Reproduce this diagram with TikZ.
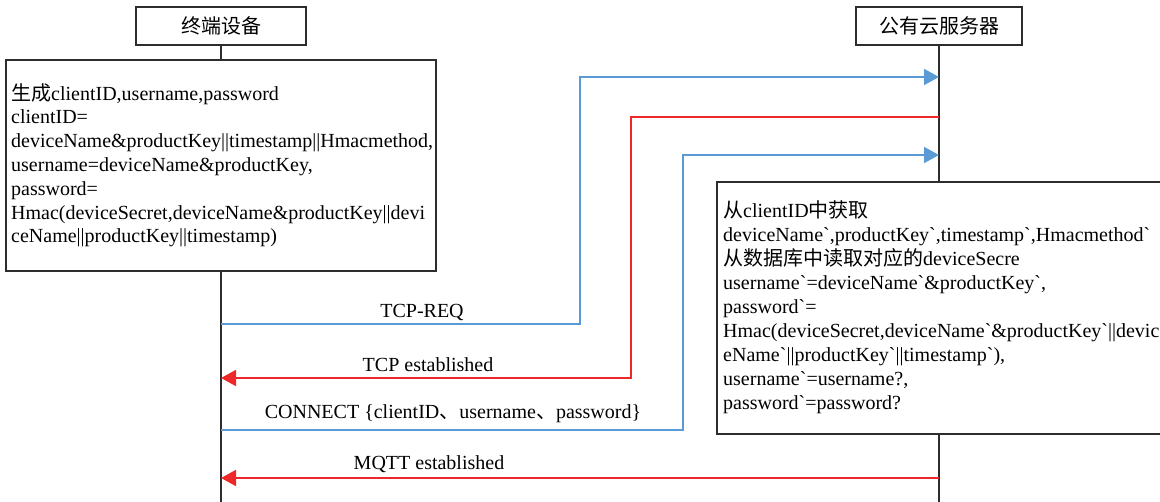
\documentclass[tikz,border=0pt]{standalone}
\usepackage{fontspec}
\setmainfont{Liberation Serif}[Ligatures=TeXOff]
\newfontfamily\cjk{Noto Sans CJK SC}
\usetikzlibrary{arrows.meta}
\definecolor{msgblue}{RGB}{91,155,213}
\definecolor{msgred}{RGB}{238,40,40}
\definecolor{frame}{RGB}{45,45,45}
\tikzset{
  headbox/.style={draw=frame, line width=1.6pt, fill=white, minimum width=170pt, minimum height=38pt, inner sep=0pt, font=\cjk\fontsize{20}{23}\selectfont},
  notebox/.style={draw=frame, line width=1.6pt, fill=white},
  notetext/.style={anchor=north west, inner sep=0pt, align=left},
  lifeline/.style={draw=frame, line width=1.6pt},
  req/.style={draw=msgblue, line width=1.8pt, -{Triangle[length=15pt,width=16pt]}},
  resp/.style={draw=msgred, line width=1.8pt, -{Triangle[length=15pt,width=16pt]}},
  msglabel/.style={inner sep=0pt, font=\fontsize{20}{24}\selectfont},
}
\begin{document}
\begin{tikzpicture}[x=1pt, y=-1pt]
\clip (0,0) rectangle (1160,501);
\fill[white] (0,0) rectangle (1160,501);

% participants
\node[headbox, minimum width=170pt] (devhead) at (221,26) {终端设备};
\node[headbox, minimum width=166pt] (cloudhead) at (939,26) {公有云服务器};

% lifelines
\coordinate (devend) at (221,505);
\coordinate (cloudend) at (939,505);
\draw[lifeline] (devhead.south) -- (devend);
\draw[lifeline] (cloudhead.south) -- (cloudend);

% device-side computation
\draw[notebox] (6,60) rectangle (436,271);
\node[notetext, font=\fontsize{20}{23.8}\selectfont] (devnote) at (11,83) {%
{\cjk 生成}clientID,username,password\\
clientID=\\
deviceName\&productKey||timestamp||Hmacmethod,\\
username=deviceName\&productKey,\\
password=\\
Hmac(deviceSecret,deviceName\&productKey||devi\\
ceName||productKey||timestamp)};

% server-side verification
\draw[notebox] (717,182) rectangle (1175,434);
\node[notetext, font=\fontsize{20}{24.1}\selectfont] (cloudnote) at (723,200) {%
{\cjk 从}clientID{\cjk 中获取}\\
deviceName`,productKey`,timestamp`,Hmacmethod`\\
{\cjk 从数据库中读取对应的}deviceSecre\\
username`=deviceName`\&productKey`,\\
password`=\\
Hmac(deviceSecret,deviceName`\&productKey`||devic\\
eName`||productKey`||timestamp`),\\
username`=username?,\\
password`=password?};

% message end points on the lifelines
\coordinate (d1) at (221,324);
\coordinate (c1) at (939,77);
\coordinate (c2) at (939,117);
\coordinate (d2) at (221,378);
\coordinate (d3) at (221,430);
\coordinate (c3) at (939,155);
\coordinate (c4) at (939,478);
\coordinate (d4) at (221,478);

% messages
\draw[req] (d1) -| (580,77) -- (c1);
\draw[resp] (c2) -| (631,378) -- (d2);
\draw[req] (d3) -| (683,155) -- (c3);
\draw[resp] (c4) -- (d4);

% message labels
\node[msglabel] (l1) at (422,312) {TCP-REQ};
\node[msglabel] (l2) at (428,365) {TCP established};
\node[msglabel] (l3) at (453,414) {CONNECT \{clientID{\cjk 、}username{\cjk 、}password\}};
\node[msglabel] (l4) at (429,464) {MQTT established};
\end{tikzpicture}
\end{document}
